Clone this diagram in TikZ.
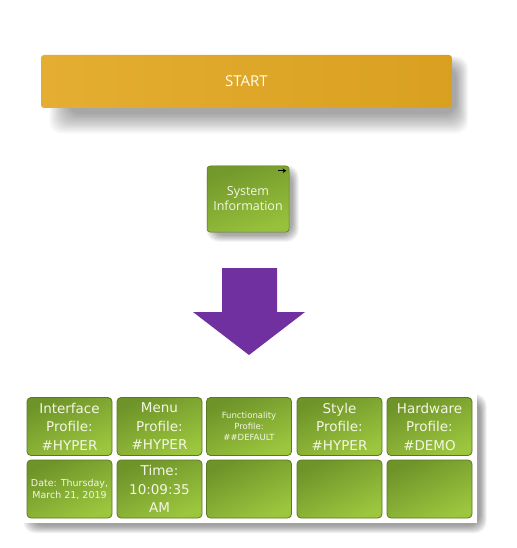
\documentclass[tikz,border=0pt]{standalone}
\usepackage{fontspec}
\setmainfont{DejaVu Sans}
\newfontfamily\ofont{Open Sans}
\usetikzlibrary{arrows.meta,backgrounds}
\definecolor{goldA}{HTML}{E4AE32}
\definecolor{goldB}{HTML}{D9A020}
\definecolor{greenDark}{HTML}{6E9329}
\definecolor{greenLight}{HTML}{9CC63E}
\definecolor{greenEdge}{HTML}{5A7A22}
\definecolor{purp}{HTML}{7030A0}
\definecolor{celltext}{HTML}{F4F6E6}
\tikzset{
  cell/.style={draw=greenEdge, line width=0.8pt, rounded corners=4pt,
    shading=axis, top color=greenDark, bottom color=greenLight, shading angle=25,
    text=celltext, align=center, minimum width=85pt, minimum height=58pt, inner sep=1pt,
    font=\fontsize{13.5}{18.5}\selectfont},
  smallcell/.style={cell, font=\fontsize{8.5}{11}\selectfont},
  datecell/.style={cell, font=\fontsize{9.5}{12}\selectfont},
  shadowlayer/.style={fill=black, opacity=0.025, rounded corners=12pt},
}
\begin{document}
\begin{tikzpicture}[x=1pt,y=-1pt]
\useasboundingbox (0,0) rectangle (516,548);
% START bar
\node[rounded corners=3pt, left color=goldA, right color=goldB,
  minimum width=411pt, minimum height=53pt, text=white!92!yellow, font=\ofont\fontsize{15}{17}\selectfont]
  (start) at (246.5,81.5) {START};
% System information
\node[rounded corners=3pt, draw=greenEdge, line width=0.5pt, shading=axis, top color=greenDark!90!greenLight, bottom color=greenLight!90!greenDark, shading angle=20,
  minimum width=82pt, minimum height=66pt, text=celltext, align=center, font=\ofont\fontsize{12.5}{15}\selectfont]
  (sys) at (248,199) {System\\Information};
\coordinate (arA) at ([xshift=-11pt,yshift=-5pt]sys.north east);
\coordinate (arB) at ([xshift=-3pt,yshift=-5pt]sys.north east);
\draw[line width=1.3pt, -{Stealth[length=3.5pt,width=4.5pt]}] (arA) -- (arB);
% Purple arrow
\fill[purp] (222,268) -- (277,268) -- (277,312) -- (305,312) -- (249,355) -- (193,312) -- (222,312) -- cycle;
% Panel
\node[fill=white, minimum width=455pt, minimum height=130pt, inner sep=0]
  (panel) at (249.5,457.5) {};
% Cells
\node[cell] (c11) at (69.5,426.5) {Interface\\Profile:\\\#HYPER};
\node[cell] (c12) at (159.5,426.5) {Menu\\Profile:\\\#HYPER};
\node[smallcell] (c13) at (249,426.5) {Functionality\\Profile:\\\#\#DEFAULT};
\node[cell] (c14) at (339.5,426.5) {Style\\Profile:\\\#HYPER};
\node[cell] (c15) at (429.5,426.5) {Hardware\\Profile:\\\#DEMO};
\node[datecell] (c21) at (69.5,489) {Date: Thursday,\\March 21, 2019};
\node[cell] (c22) at (159.5,489) {Time:\\10:09:35\\AM};
\node[cell] (c23) at (249,489) {};
\node[cell] (c24) at (339.5,489) {};
\node[cell] (c25) at (429.5,489) {};
\begin{pgfonlayer}{background}
\fill[white] (0,0) rectangle (516,548);
\foreach \i in {0,...,15}{
  \fill[shadowlayer] ([shift={(28-\i*1.3,12-\i*0.7)}]start.north west) rectangle ([shift={(4+\i*0.8,6+\i*1.3)}]start.south east);
}
\foreach \i in {0,...,11}{
  \fill[shadowlayer, opacity=0.03] ([shift={(6-\i*0.6,6-\i*0.6)}]sys.north west) rectangle ([shift={(3+\i*0.6,3+\i*0.6)}]sys.south east);
  \fill[shadowlayer, opacity=0.035] ([shift={(10-\i*0.8,8-\i*0.6)}]panel.north west) rectangle ([shift={(3+\i*0.6,3+\i*0.7)}]panel.south east);
}
\end{pgfonlayer}
\end{tikzpicture}
\end{document}
